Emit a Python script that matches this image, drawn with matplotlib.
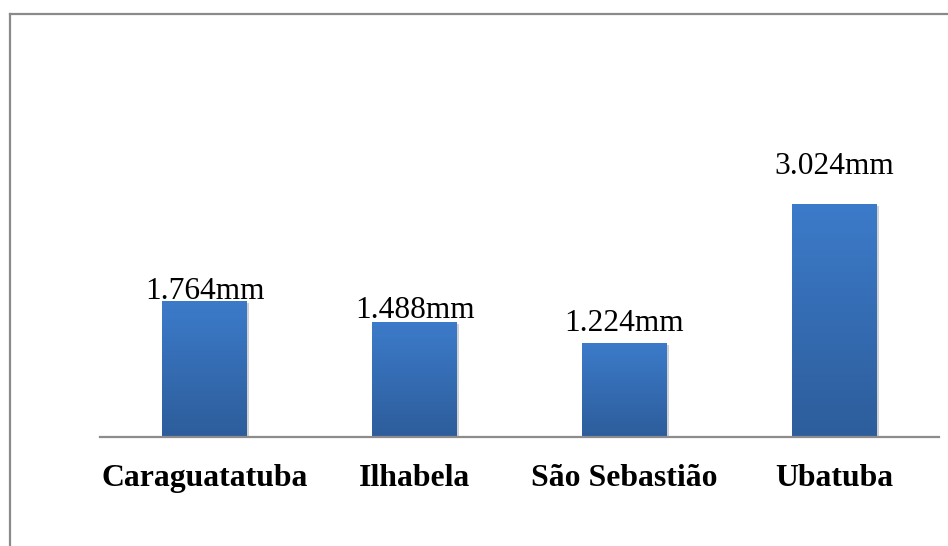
import numpy as np
import matplotlib
matplotlib.use("Agg")
import matplotlib.pyplot as plt
from matplotlib.lines import Line2D
import matplotlib.patheffects as pe
from matplotlib.colors import LinearSegmentedColormap

categories = ["Caraguatatuba", "Ilhabela", "São Sebastião", "Ubatuba"]
values = [1.764, 1.488, 1.224, 3.024]
value_labels = ["1.764mm", "1.488mm", "1.224mm", "3.024mm"]
label_gaps_pt = [1.5, 3, 8.5, 21.5]  # vertical gap between bar top and label baseline

W, H = 948, 546
fig = plt.figure(figsize=(W / 100, H / 100), dpi=100)
fig.patch.set_facecolor("white")

ax_top_px = 30
ax_bottom_px = 437
ax_left_px = 100
ax_right_px = 939
ax = fig.add_axes([ax_left_px / W, (H - ax_bottom_px) / H,
                   (ax_right_px - ax_left_px) / W, (ax_bottom_px - ax_top_px) / H])

px_per_unit = 77.1
x = np.arange(len(categories))

bar_w = 0.405
bars = ax.bar(x, values, width=bar_w, color="#3a77c4", zorder=2,
              path_effects=[pe.SimplePatchShadow(offset=(1.5, -1.5), shadow_rgbFace="#808080", alpha=0.35),
                            pe.Normal()])

cmap = LinearSegmentedColormap.from_list("g", ["#2d5d9b", "#3c7bca"])
grad = np.linspace(0, 1, 256).reshape(-1, 1)
for b in bars:
    x0, y0 = b.get_x(), b.get_y()
    im = ax.imshow(grad, cmap=cmap, origin="lower", aspect="auto",
                   extent=(x0, x0 + b.get_width(), y0, y0 + b.get_height()),
                   zorder=3, interpolation="bilinear")
    im.set_clip_path(b)

ax.set_xlim(-0.5, len(categories) - 0.5)
ax.set_ylim(0, (ax_bottom_px - ax_top_px) / px_per_unit)

serif = ["Liberation Serif", "DejaVu Serif"]
for xi, v, lab, gap in zip(x, values, value_labels, label_gaps_pt):
    ax.annotate(lab, (xi, v), xytext=(0, gap), textcoords="offset points",
                ha="center", va="baseline", fontsize=22.6, family=serif,
                color="black", zorder=4)

ax.set_xticks(x)
ax.set_xticklabels(categories, fontsize=22.9, fontweight="bold", family=serif)
ax.tick_params(axis="x", length=0, pad=19.5)
ax.set_yticks([])
for s in ["top", "right", "left"]:
    ax.spines[s].set_visible(False)
ax.spines["bottom"].set_color("#8c8c8c")
ax.spines["bottom"].set_linewidth(1.6)
ax.spines["bottom"].set_zorder(5)

# outer border (left and top only visible in frame)
bx, by = 9.5 / W, 1 - 13.5 / H
fig.add_artist(Line2D([bx, bx], [0, by], transform=fig.transFigure, color="#8a8a8a", lw=1.6))
fig.add_artist(Line2D([bx, 1], [by, by], transform=fig.transFigure, color="#8a8a8a", lw=1.6))

fig.savefig("out.png", dpi=100, facecolor="white")
